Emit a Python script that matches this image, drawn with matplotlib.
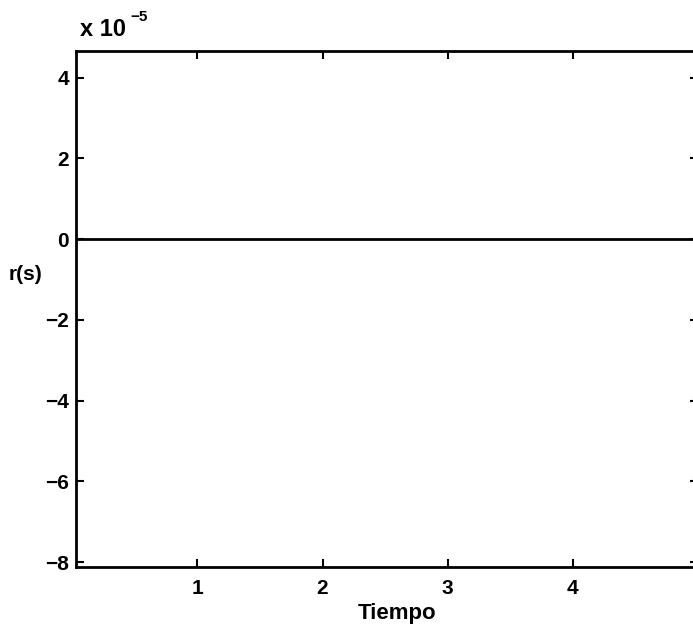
import matplotlib.pyplot as plt
from matplotlib.ticker import FuncFormatter

# data: residual r(s) over time (all ~0 at the 1e-5 scale)
tiempo = [0.03, 1.0, 2.0, 3.0, 4.0, 5.0]
r_s = [0.0, 0.0, 0.0, 0.0, 0.0, 0.0]

x_ticks = [1, 2, 3, 4]
y_ticks = [-8e-5, -6e-5, -4e-5, -2e-5, 0.0, 2e-5, 4e-5]

plt.rcParams['font.family'] = ['Liberation Sans', 'DejaVu Sans']

fig = plt.figure(figsize=(6.93, 6.27), dpi=100)
ax = fig.add_axes([76/693, 1 - 567/627, 622/693, 516/627])

ax.plot(tiempo, r_s, color='black', linewidth=2)

ax.set_xlim(0.03, 5.0)
ax.set_ylim(-8.12e-5, 4.66e-5)
ax.set_xticks(x_ticks)
ax.set_yticks(y_ticks)
ax.yaxis.set_major_formatter(FuncFormatter(lambda v, p: ('%g' % round(v / 1e-5)).replace('-', '\u2212')))

for s in ax.spines.values():
    s.set_linewidth(2)
ax.tick_params(direction='in', top=True, right=True, length=6, width=1.5,
               labelsize=15)
ax.tick_params(axis='x', pad=9)
ax.tick_params(axis='y', pad=5)
for lab in ax.get_xticklabels() + ax.get_yticklabels():
    lab.set_fontweight('bold')

ax.set_xlabel('Tiempo', fontsize=16, fontweight='bold', va='baseline')
ax.xaxis.set_label_coords((397 - 76) / 622, (567 - 619) / 516)
ax.set_ylabel('r(s)', fontsize=15, fontweight='bold', rotation=0, va='center', ha='center')
ax.yaxis.set_label_coords((26 - 76) / 622, (567 - 275) / 516)

# multiplier label like MATLAB
fig.text(80/693, 1 - 30/627, 'x 10', fontsize=17, fontweight='bold', va='center', ha='left')
fig.text(130/693, 1 - 17/627, '\u22125', fontsize=11, fontweight='bold', va='center', ha='left')

fig.savefig('out.png', dpi=100)
